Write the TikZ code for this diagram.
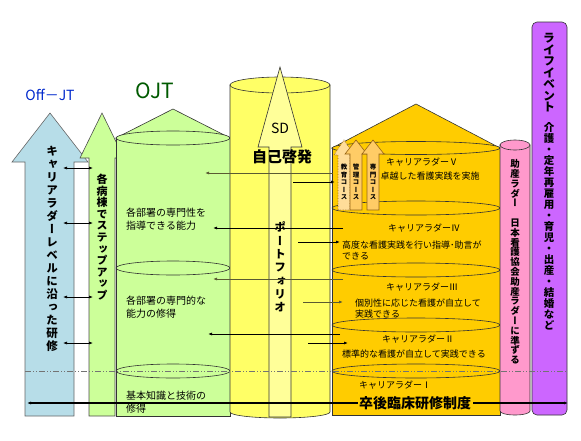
\documentclass[tikz,border=0pt]{standalone}
\usepackage{fontspec}
\usepackage{graphicx}
\setmainfont{Noto Sans CJK JP}
\newfontfamily\tatefont[RawFeature=+vert]{Noto Sans CJK JP}
\usetikzlibrary{arrows.meta}

\definecolor{offjtblue}{RGB}{183,221,232}
\definecolor{ojtgreen}{RGB}{204,255,153}
\definecolor{sdyellow}{RGB}{255,255,102}
\definecolor{sdlight}{RGB}{255,255,153}
\definecolor{ladderorange}{RGB}{255,204,0}
\definecolor{coursefill}{RGB}{255,204,102}
\definecolor{courselight}{RGB}{255,221,153}
\definecolor{courseedge}{RGB}{150,100,20}
\definecolor{midwifepink}{RGB}{255,153,204}
\definecolor{lifepurple}{RGB}{204,102,255}
\definecolor{arrowolive}{RGB}{90,90,50}
\definecolor{ojtlabel}{RGB}{0,90,0}
\definecolor{offjtlabel}{RGB}{0,40,204}

% vertical text, one character per line
\newcommand\tate[2][13pt]{\vbox{\baselineskip=#1\relax\lineskiplimit=-100pt\tateA#2\relax}}
\newcommand\tateA[1]{\ifx\relax#1\else\hbox to 1em{\hss#1\hss}\expandafter\tateA\fi}

\begin{document}
\begin{tikzpicture}[x=1pt,y=-1pt,
  >={Latex[length=4pt,width=3pt]},
  edge/.style={draw=black!80,line width=0.6pt},
  dashdot/.style={dash pattern=on 6pt off 2pt on 1pt off 2pt on 1pt off 2pt},
  small/.style={font=\fontsize{9}{11}\selectfont,inner sep=0pt},
  ojttext/.style={font=\fontsize{10}{13.5}\selectfont,align=left,anchor=west,inner sep=0pt},
  course/.style={edge,draw=courseedge,fill=coursefill}]
\useasboundingbox (0,0) rectangle (581,440);

% Off-JT and step arrows
\draw[edge,draw=black!60,fill=offjtblue] (25,416) -- (25,162) -- (12,162) -- (50,113) -- (88,162) -- (74,162) -- (74,416) -- cycle;
\draw[edge,draw=black!70,fill=ojtgreen] (89,416) -- (89,158) -- (80,158) -- (102,113) -- (124,158) -- (115,158) -- (115,416) -- cycle;

% OJT cylinder
\draw[edge,fill=ojtgreen] (116,138) -- (173,109) -- (230,138) -- cycle;
\draw[edge,fill=ojtgreen] (116,138) rectangle (230,416);
\draw[edge,fill=ojtgreen] (173,138) ellipse [x radius=57,y radius=7];
\draw[edge] (173,268) ellipse [x radius=57,y radius=7];
\draw[edge] (173,371) ellipse [x radius=57,y radius=7];

% SD cylinder
\draw[edge,fill=sdyellow] (230,85) -- (230,412) arc [start angle=180,end angle=0,x radius=50,y radius=6] -- (330,85) -- cycle;
\draw[edge,fill=sdyellow] (280,85) ellipse [x radius=50,y radius=8];
\draw[edge,fill=sdlight] (269,417) -- (269,147) -- (258,147) -- (280,67) -- (302,147) -- (291,147) -- (291,417) -- cycle;

% career ladder cylinder
\draw[edge,fill=ladderorange] (332,148) -- (416,104) -- (500,148) -- cycle;
\draw[edge,fill=ladderorange] (332,148) rectangle (500,415);
\draw[edge,fill=ladderorange] (416,148) ellipse [x radius=84,y radius=6.5];
\foreach \y in {208,270,325}
  \draw[edge] (416,\y) ellipse [x radius=84,y radius=7];
\draw[edge] (416,371) ellipse [x radius=84,y radius=7];

% course arrows
\draw[course,fill=courselight,densely dotted] (338,210) -- (338,155) -- (334,155) -- (344,140) -- (354,155) -- (350,155) -- (350,210) -- cycle;
\draw[course] (350,210) -- (350,154) -- (345,154) -- (356,140) -- (367,154) -- (362,154) -- (362,210) -- cycle;
\draw[course] (367,210) -- (367,154) -- (362,154) -- (373,140) -- (384,154) -- (379,154) -- (379,210) -- cycle;
\node[inner sep=0pt,font=\tatefont\bfseries\fontsize{6.5}{7.5}\selectfont] (edu) at (344,182) {\tate[7.5pt]{教育コース}};
\node[inner sep=0pt,font=\tatefont\bfseries\fontsize{6.5}{7.5}\selectfont] (mgmt) at (356,182) {\tate[7.5pt]{管理コース}};
\node[inner sep=0pt,font=\tatefont\bfseries\fontsize{6.5}{7.5}\selectfont] (spec) at (373,182) {\tate[7.5pt]{専門コース}};

% midwife ladder and life events
\draw[edge,fill=midwifepink] (500,145) -- (500,411) arc [start angle=180,end angle=0,x radius=15,y radius=4] -- (530,145) -- cycle;
\draw[edge,fill=midwifepink] (515,145) ellipse [x radius=15,y radius=5];
\draw[edge,fill=lifepurple,rounded corners=5pt] (532,22) rectangle (567,415);

% headings
\node[text=offjtlabel,font=\fontsize{14}{14}\selectfont] (offjt) at (50,95) {Off－JT};
\node[text=ojtlabel,font=\fontsize{21}{21}\selectfont] (ojt) at (155,91) {OJT};
\node[font=\fontsize{14}{14}\selectfont] (sd) at (280,128) {SD};
\node[font=\bfseries\fontsize{15}{15}\selectfont,inner sep=0pt] (selfdev) at (282,157) {自己啓発};

% vertical labels
\node[inner sep=0pt,font=\tatefont\bfseries\fontsize{11.5}{13}\selectfont] (offjttxt) at (52,249) {\tate[13pt]{キャリアラダーレベルに沿った研修}};
\node[inner sep=0pt,font=\tatefont\bfseries\fontsize{11}{11.6}\selectfont] (steptxt) at (102,237) {\tate[11.6pt]{各病棟でステップアップ}};
\node[inner sep=0pt,font=\tatefont\bfseries\fontsize{11.5}{13.3}\selectfont] (portfolio) at (280,267) {\tate[13.3pt]{ポートフォリオ}};
\node[inner sep=0pt,font=\tatefont\bfseries\fontsize{9.5}{9.8}\selectfont] (midwife) at (515,262) {\tate[9.8pt]{助産ラダー　日本看護協会助産ラダーに準ずる}};
\node[inner sep=0pt,font=\tatefont\bfseries\fontsize{12}{11.5}\selectfont] (life) at (549,73) {\tate[11.5pt]{ライフイベント}};
\node[inner sep=0pt,font=\tatefont\bfseries\fontsize{10.5}{11}\selectfont] (lifeitems) at (549,226) {\tate[11pt]{介護・定年再雇用・育児・出産・結婚など}};

% OJT texts
\node[ojttext] (ojt1) at (126,219) {各部署の専門性を\\指導できる能力};
\node[ojttext] (ojt2) at (126,307) {各部署の専門的な\\能力の修得};
\node[ojttext] (ojt3) at (126,402) {基本知識と技術の\\修得};

% ladder texts
\node[small] (lv5) at (422,162) {キャリアラダーⅤ};
\node[small] (lv5txt) at (430,176) {卓越した看護実践を実施};
\node[small] (lv4) at (424,228) {キャリアラダーⅣ};
\node[small,align=left,anchor=west] (lv4txt) at (342,250) {高度な看護実践を行い指導･助言が\\できる};
\node[small] (lv3) at (422,287) {キャリアラダーⅢ};
\node[small,align=left,anchor=west] (lv3txt) at (355,309) {個別性に応じた看護が自立して\\実践できる};
\node[small] (lv2) at (418,339) {キャリアラダーⅡ};
\node[small] (lv2txt) at (414,354) {標準的な看護が自立して実践できる};
\node[small] (lv1) at (395,385) {キャリアラダーⅠ};

% arrows between Off-JT and wards
\foreach \y in {168,223,297,343}
  \draw[<->,line width=0.6pt] (63,\y) -- (93,\y);

% arrows through SD
\draw[->,arrowolive,line width=0.8pt] (333,173) -- (205,173);
\draw[->,line width=0.8pt] (343,228) -- (213,228);
\draw[->,arrowolive,line width=0.8pt] (343,279) -- (213,279);
\draw[->,line width=0.8pt] (340,334) -- (208,334);
\draw[->,line width=0.8pt] (293,182) -- (335,182);
\draw[->,line width=0.8pt] (298,242) -- (340,242);
\draw[->,arrowolive,line width=0.8pt] (303,302) -- (343,302);
\draw[->,line width=0.8pt] (308,343) -- (348,343);

% level I line and post-graduate training
\draw[dashdot,black!55,line width=0.8pt] (25,371) -- (567,371);
\coordinate (trainL) at (27,403);
\coordinate (trainR) at (568,403);
\draw[<->,line width=1.6pt] (trainL) -- (trainR);
\node[fill=ladderorange,inner sep=1.5pt,font=\bfseries\fontsize{14}{14}\selectfont] (training) at (415,403) {卒後臨床研修制度};

\end{tikzpicture}
\end{document}
